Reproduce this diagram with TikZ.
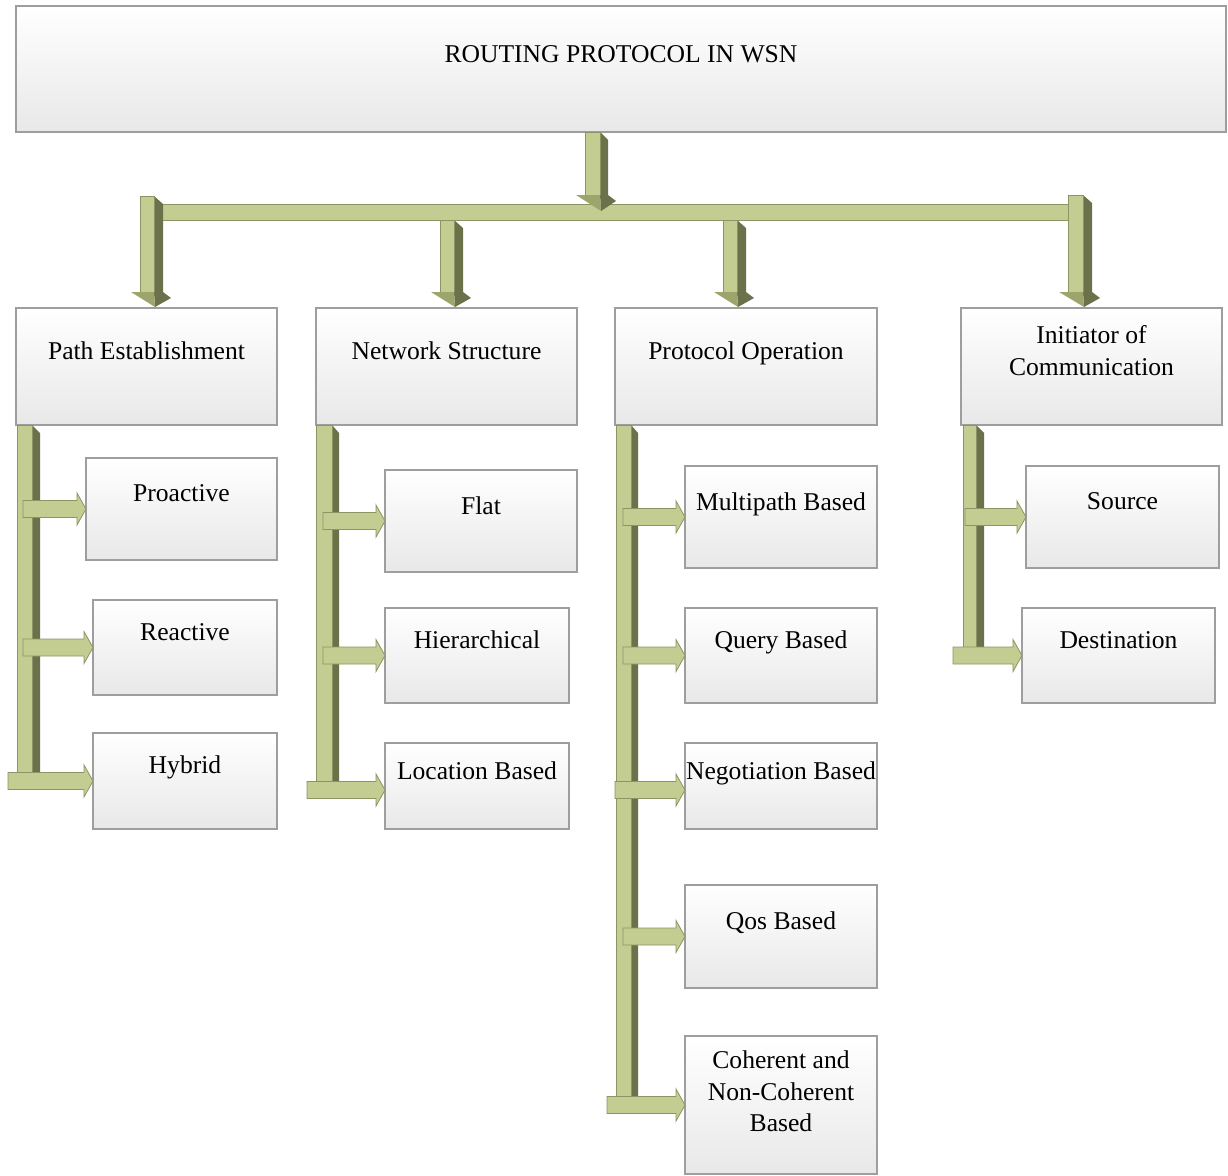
\documentclass[tikz,border=0pt]{standalone}
\usepackage{fontspec}
\setmainfont{Liberation Serif}
\usetikzlibrary{calc}

\definecolor{olv}{HTML}{C3CD91}
\definecolor{olvdk}{HTML}{6B714B}
\definecolor{olvmd}{HTML}{9DA56C}
\definecolor{olvln}{HTML}{8C9464}

% box: name, left, top, right, bottom
\newcommand\bx[5]{\node[box, minimum width={(#4-#2)*1pt}, minimum height={(#5-#3)*1pt}] (#1) at (#2,#3) {};}
% 3D downward block arrow: x0, x1 (front face), x2 (side face), top, head start, tip
\newcommand\dnarr[6]{%
  \fill[olvdk] (#2,#4) -- (#3,#4+8) -- (#3,#5) -- (#2,#5) -- cycle;
  \draw[flatarr] (#1,#4) rectangle (#2,#5);
  \fill[olvdk] (#2,#5) -- (#3,#5) -- (#3+8,#5+6) -- (#2+1,#6) -- cycle;
  \fill[olvmd] (#1-9,#5) -- (#2,#5) -- (#2+1,#6) -- cycle;
}
% vertical trunk with shaded side: left, front right, side right, top, bottom
\newcommand\trunk[5]{%
  \fill[olvdk] (#2,#4) -- (#3,#4+8) -- (#3,#5) -- (#2,#5) -- cycle;
  \draw[flatarr] (#1,#4) rectangle (#2,#5);
}
% branch arrow: [vertical offset] start x, target node
\newcommand\brarr[3][0]{%
  \draw[flatarr] let \p1=($(#3.west)+(0,#1)$) in
    ({#2pt},{\y1+8.5pt}) -- ({\x1-9pt},{\y1+8.5pt}) -- ({\x1-9pt},{\y1+16pt}) -- (\p1)
    -- ({\x1-9pt},{\y1-16pt}) -- ({\x1-9pt},{\y1-8.5pt}) -- ({#2pt},{\y1-8.5pt}) -- cycle;
}

\begin{document}
\begin{tikzpicture}[x=1pt,y=-1pt,
  box/.style={draw=black!38, line width=1.2pt, top color=white, bottom color=black!9,
    inner sep=0pt, outer sep=0pt, anchor=north west},
  lbl/.style={font=\fontsize{25.6}{31}\selectfont, inner sep=0pt, anchor=base, text=black},
  flatarr/.style={fill=olv, draw=olvln, line width=0.8pt, line join=miter}]

\fill[white] (0,0) rectangle (1228,1175);
\useasboundingbox (0,0) rectangle (1228,1175);

% boxes
\bx{title}{16}{6}{1226}{132}
\bx{pe}{16}{308}{277}{425}
\bx{ns}{316}{308}{577}{425}
\bx{po}{615}{308}{877}{425}
\bx{ic}{961}{308}{1222}{425}
\bx{pro}{86}{458}{277}{560}
\bx{rea}{93}{600}{277}{695}
\bx{hyb}{93}{733}{277}{829}
\bx{flat}{385}{470}{577}{572}
\bx{hier}{385}{608}{569}{703}
\bx{loc}{385}{743}{569}{829}
\bx{mul}{685}{466}{877}{568}
\bx{qry}{685}{608}{877}{703}
\bx{neg}{685}{743}{877}{829}
\bx{qos}{685}{885}{877}{988}
\bx{coh}{685}{1036}{877}{1174}
\bx{src}{1026}{466}{1219}{568}
\bx{dst}{1022}{608}{1215}{703}

% labels
\node[lbl] (title-t) at (title.north |- 0,62) {ROUTING PROTOCOL IN WSN};
\node[lbl] (pe-t) at (pe.north |- 0,359) {Path Establishment};
\node[lbl] (ns-t) at (ns.north |- 0,359) {Network Structure};
\node[lbl] (po-t) at (po.north |- 0,359) {Protocol Operation};
\node[lbl] (ic-t1) at (ic.north |- 0,343) {Initiator of};
\node[lbl] (ic-t2) at (ic.north |- 0,375) {Communication};
\node[lbl] (pro-t) at (pro.north |- 0,501) {Proactive};
\node[lbl] (rea-t) at (rea.north |- 0,640) {Reactive};
\node[lbl] (hyb-t) at (hyb.north |- 0,773) {Hybrid};
\node[lbl] (flat-t) at (flat.north |- 0,514) {Flat};
\node[lbl] (hier-t) at (hier.north |- 0,648) {Hierarchical};
\node[lbl] (loc-t) at (loc.north |- 0,779) {Location Based};
\node[lbl] (mul-t) at (mul.north |- 0,510) {Multipath Based};
\node[lbl] (qry-t) at (qry.north |- 0,648) {Query Based};
\node[lbl] (neg-t) at (neg.north |- 0,779) {Negotiation Based};
\node[lbl] (qos-t) at (qos.north |- 0,929) {Qos Based};
\node[lbl] (coh-t1) at (coh.north |- 0,1068) {Coherent and};
\node[lbl] (coh-t2) at (coh.north |- 0,1100) {Non-Coherent};
\node[lbl] (coh-t3) at (coh.north |- 0,1131) {Based};
\node[lbl] (src-t) at (src.north |- 0,509) {Source};
\node[lbl] (dst-t) at (dst.north |- 0,648) {Destination};

% distribution bar and arrows to the four categories
\draw[flatarr] (150,204) rectangle (1075,220);
\dnarr{440}{454}{463}{220}{292}{307}
\dnarr{723}{737}{746}{220}{292}{307}
\dnarr{140}{154}{163}{196}{292}{307}
\dnarr{1068}{1083}{1092}{195}{292}{307}
\dnarr{585}{600}{608}{132}{195}{211}

% Path Establishment
\trunk{17}{32}{40}{425}{773}
\brarr{23}{pro}
\brarr{23}{rea}
\brarr{8}{hyb}

% Network Structure
\trunk{316}{332}{339}{425}{781}
\brarr{323}{flat}
\brarr{323}{hier}
\brarr[4]{307}{loc}

% Protocol Operation
\trunk{616}{631}{638}{425}{1099}
\brarr{623}{mul}
\brarr{623}{qry}
\brarr[4]{615}{neg}
\brarr{623}{qos}
\brarr{607}{coh}

% Initiator of Communication
\trunk{963}{976}{984}{425}{648}
\brarr{965}{src}
\brarr{953}{dst}

\end{tikzpicture}
\end{document}
